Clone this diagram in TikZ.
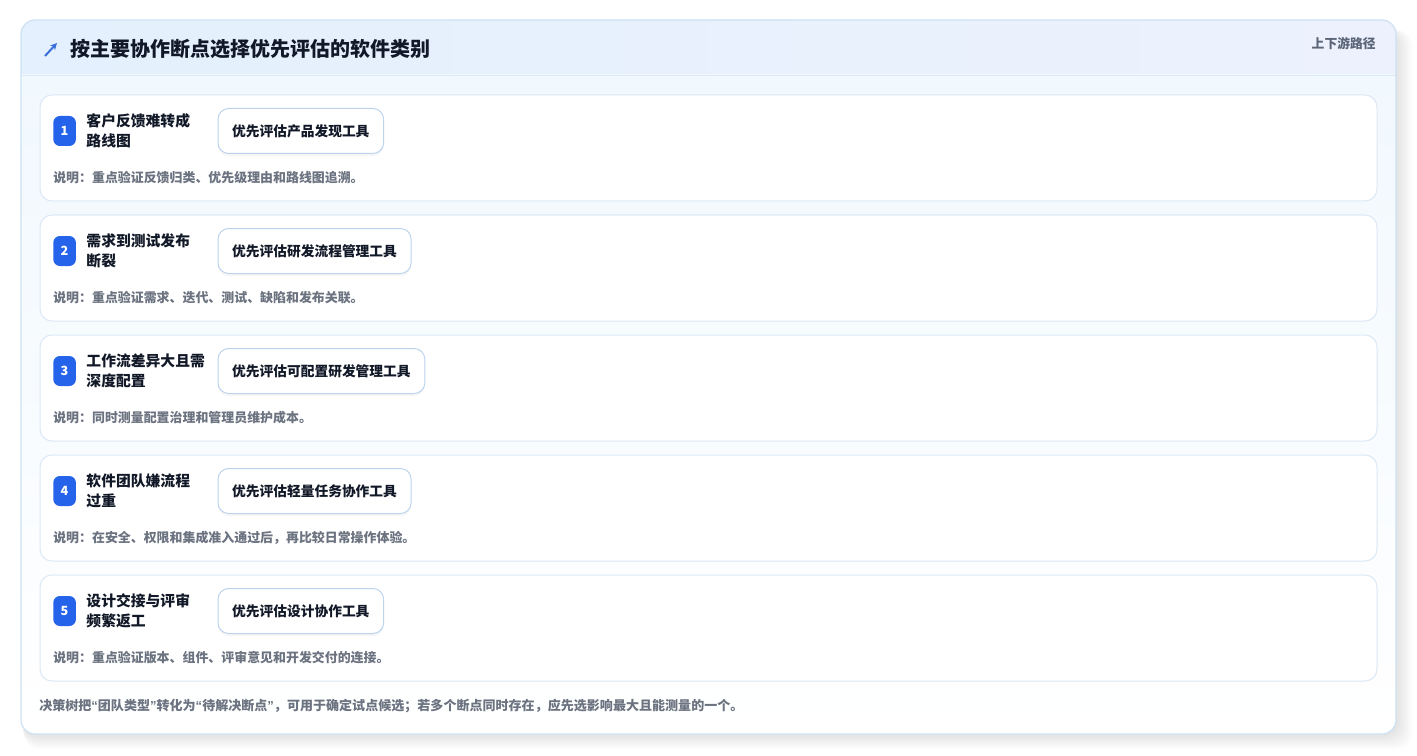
\documentclass[tikz,border=0pt]{standalone}
\usepackage{fontspec}
\setmainfont{Noto Sans CJK SC}
\newfontfamily\latq{Liberation Sans}
\newcommand{\myqL}{{\latq “}}
\newcommand{\myqR}{{\latq ”}}
\usetikzlibrary{arrows.meta,shadows,calc}
\definecolor{outerb}{HTML}{CCE2F4}
\definecolor{headl}{HTML}{E4F0FD}
\definecolor{headr}{HTML}{ECF1FD}
\definecolor{bodyt}{HTML}{F1F8FE}
\definecolor{cardb}{HTML}{DCE8F5}
\definecolor{toolb}{HTML}{BCD3EE}
\definecolor{badgec}{HTML}{2563EB}
\definecolor{ink}{HTML}{111827}
\definecolor{muted}{HTML}{6B7280}
\definecolor{sub}{HTML}{5B6578}
\definecolor{iconc}{HTML}{3A6FD8}
\begin{document}
\begin{tikzpicture}[x=0.75pt,y=-0.75pt,
  cardbox/.style={draw=cardb,line width=0.75pt,fill=white,rounded corners=9pt},
  badge/.style={fill=badgec,rounded corners=5pt,minimum width=17pt,minimum height=22.5pt,inner sep=0pt,text=white,font=\fontsize{9.5}{10}\selectfont\bfseries},
  ctitle/.style={anchor=west,inner sep=0pt,align=left,text=ink,font=\fontsize{11.1}{15}\selectfont\bfseries},
  tool/.style={anchor=west,draw=toolb,line width=0.75pt,fill=white,rounded corners=8pt,inner xsep=10.6pt,inner ysep=0pt,minimum height=33.75pt,text=ink,font=\fontsize{10.3}{12}\selectfont\bfseries,
    drop shadow={shadow xshift=0pt,shadow yshift=-2pt,opacity=0.06,fill=black!60}},
  note/.style={anchor=west,inner sep=0pt,text=muted,font=\fontsize{9.7}{11}\selectfont\bfseries}
]
\useasboundingbox (0,0) rectangle (1417,756);
\fill[white] (0,0) rectangle (1417,756);
% soft shadow of outer panel
\foreach \i in {1,...,14}{
  \fill[black,opacity=0.009,rounded corners=12pt] (21+\i*0.2,30) rectangle (1396+\i*1.2,734+\i*1.1);
}
% panel
\begin{scope}
  \clip[rounded corners=10.5pt] (21,20) rectangle (1396,734);
  \shade[left color=headl,right color=headr] (21,20) rectangle (1396,75);
  \shade[top color=bodyt,bottom color=white] (21,75) rectangle (1396,734);
  \draw[cardb,line width=0.75pt] (21,75.5) -- (1396,75.5);
\end{scope}
\draw[outerb,line width=0.9pt,rounded corners=10.5pt] (21,20) rectangle (1396,734);
% header
\coordinate (ia) at (45,56);
\coordinate (ib) at (57,43);
\draw[iconc,line width=1.5pt,-{Stealth[length=5pt,width=5pt]}] (ia) -- (ib);
\node[anchor=west,inner sep=0pt,text=ink,font=\fontsize{15}{18}\selectfont\bfseries] (title) at (70,49) {按主要协作断点选择优先评估的软件类别};
\node[anchor=east,inner sep=0pt,text=sub,font=\fontsize{9.6}{12}\selectfont\bfseries] (path) at (1376,44) {上下游路径};
% cards
\foreach \n/\ta/\tb/\tool/\note [count=\k from 0] in {
  1/客户反馈难转成/路线图/优先评估产品发现工具/说明：重点验证反馈归类、优先级理由和路线图追溯。,
  2/需求到测试发布/断裂/优先评估研发流程管理工具/说明：重点验证需求、迭代、测试、缺陷和发布关联。,
  3/工作流差异大且需/深度配置/优先评估可配置研发管理工具/说明：同时测量配置治理和管理员维护成本。,
  4/软件团队嫌流程/过重/优先评估轻量任务协作工具/说明：在安全、权限和集成准入通过后，再比较日常操作体验。,
  5/设计交接与评审/频繁返工/优先评估设计协作工具/说明：重点验证版本、组件、评审意见和开发交付的连接。}{
  \pgfmathsetmacro{\top}{95+120*\k}
  \draw[cardbox] (40,\top) rectangle (1377,\top+106);
  \node[badge,anchor=west] (b\n) at (53,\top+36) {\n};
  \node[ctitle] (h\n) at ($(b\n.east)+(10,0)$) {\ta\\\tb};
  \node[tool] (t\n) at (217.5,\top+36) {\tool};
  \node[note] (n\n) at (53,\top+83) {\note};
}
% footer
\node[anchor=west,inner sep=0pt,text=muted,font=\fontsize{9.78}{11}\selectfont\bfseries] (foot) at (39,706) {决策树把\myqL 团队类型\myqR 转化为\myqL 待解决断点\myqR ，可用于确定试点候选；若多个断点同时存在，应先选影响最大且能测量的一个。};
\end{tikzpicture}
\end{document}
